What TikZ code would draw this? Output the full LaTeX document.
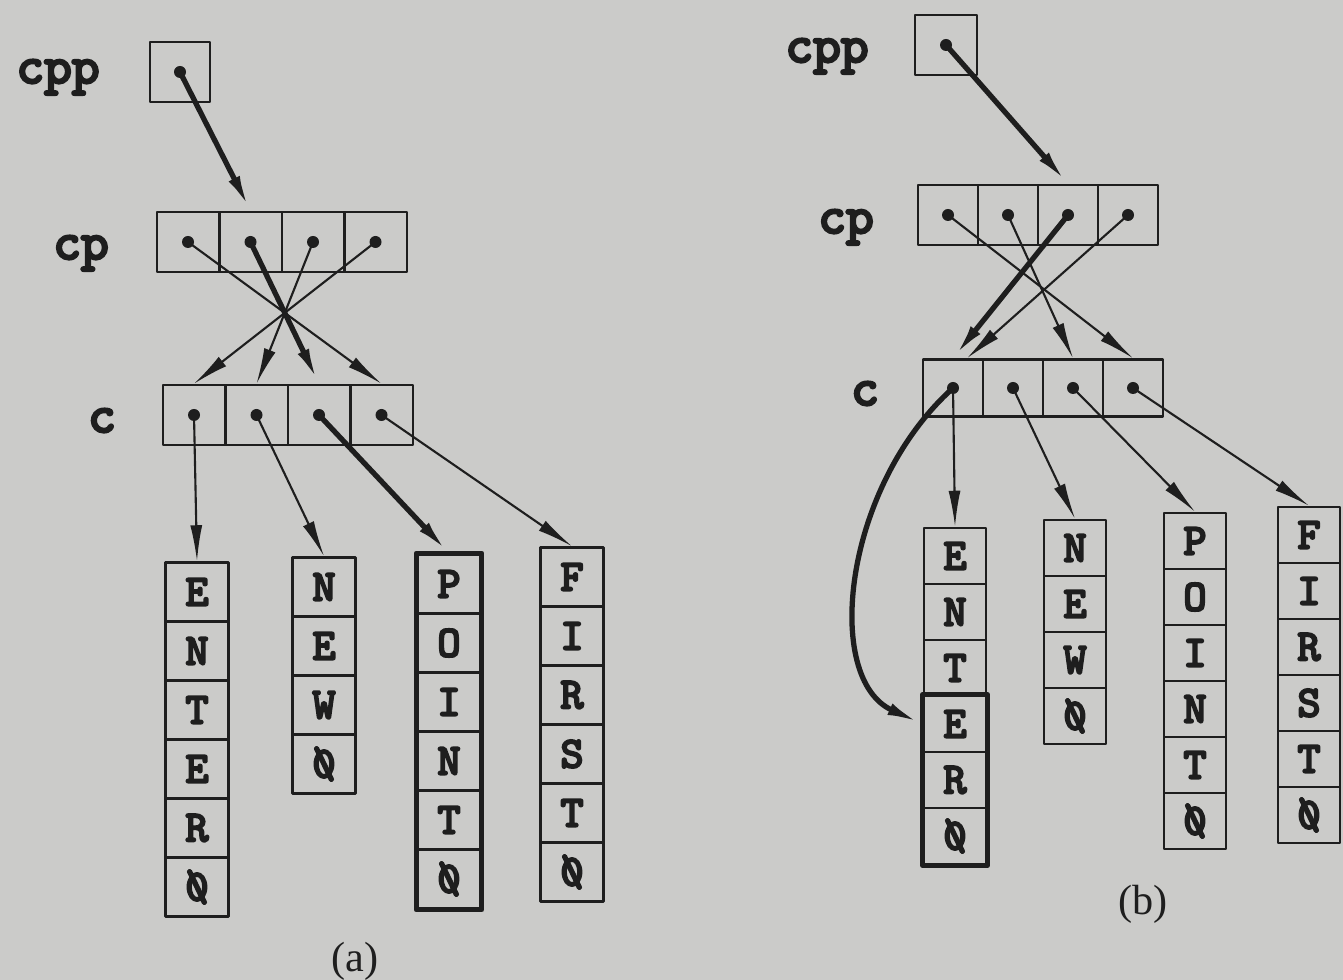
\documentclass[tikz,border=0pt]{standalone}
\usepackage{fontspec}
\setmainfont{Liberation Serif}
\newfontfamily\cellfont{lmmono10-regular}[Extension=.otf, FakeBold=5]
\usetikzlibrary{arrows.meta,calc,positioning}
\definecolor{paper}{RGB}{203,203,201}
\definecolor{ink}{RGB}{30,30,30}
\newcommand{\nulch}{\rlap{0}\char92}

\begin{document}
\begin{tikzpicture}[x=0.01cm, y=-0.01cm, line join=round,
  cell/.style={draw=ink, line width=0.7pt, minimum width=0.625cm, minimum height=0.6cm, inner sep=0pt},
  chr/.style={cell, minimum width=0.63cm, minimum height=0.59cm, text=ink, font=\cellfont\fontsize{12.5}{12.5}\selectfont},
  chrB/.style={chr, minimum width=0.62cm, minimum height=0.56cm},
  lbl/.style={anchor=base, text=ink, font=\cellfont\fontsize{15}{15}\selectfont},
  ptr/.style={draw=ink, line width=0.6pt, -{Latex[length=3.6mm,width=1.2mm]}},
  bold/.style={line width=1.5pt}]
\fill[paper] (0,0) rectangle (1343,980);
\useasboundingbox (0,0) rectangle (1343,980);
%
% (a)
\node[cell, minimum width=0.6cm] (cppA) at (180,72) {};
\foreach \i in {1,...,4} {
  \node[cell] (cpA-\i) at ({188+62.5*(\i-1)},242) {};
  \node[cell] (cA-\i) at ({194+62.5*(\i-1)},415) {};
}
\node[lbl] (cppAl) at (58,83) {cpp};
\node[lbl] (cpAl) at (81,259) {cp};
\node[lbl] (cAl) at (102,432) {c};
%
\foreach \ch [count=\i] in {E,N,T,E,R,\nulch}
  \node[chr] (sA1-\i) at (197,{592+59*(\i-1)}) {\ch};
\foreach \ch [count=\i] in {N,E,W,\nulch}
  \node[chr] (sA2-\i) at (324,{587+59*(\i-1)}) {\ch};
\foreach \ch [count=\i] in {P,O,I,N,T,\nulch}
  \node[chr] (sA3-\i) at (449,{584+59*(\i-1)}) {\ch};
\foreach \ch [count=\i] in {F,I,R,S,T,\nulch}
  \node[chr] (sA4-\i) at (572,{577+59*(\i-1)}) {\ch};
\draw[ink, bold] (sA3-1.north west) rectangle (sA3-6.south east);
%
\draw[ptr, bold] (cppA.center) -- (cpA-2.north);
\draw[ptr] (cpA-1.center) -- (cA-4.north);
\draw[ptr, bold] (cpA-2.center) -- (cA-3.north);
\draw[ptr] (cpA-3.center) -- (cA-2.north);
\draw[ptr] (cpA-4.center) -- (cA-1.north);
\draw[ptr] (cA-1.center) -- (sA1-1.north);
\draw[ptr] (cA-2.center) -- (sA2-1.north);
\draw[ptr, bold] (cA-3.center) -- (sA3-1.north);
\draw[ptr] (cA-4.center) -- (sA4-1.north);
\node[anchor=base, text=ink, font=\fontsize{12}{12}\selectfont] (capA) at (355,971) {(a)};
%
% (b)
\node[cell, minimum width=0.62cm, minimum height=0.6cm] (cppB) at (946,45) {};
\foreach \i in {1,...,4} {
  \node[cell, minimum width=0.6cm] (cpB-\i) at ({948+60*(\i-1)},215) {};
  \node[cell, minimum width=0.6cm, minimum height=0.57cm] (cB-\i) at ({953+60*(\i-1)},388) {};
}
\node[lbl] (cppBl) at (827,62) {cpp};
\node[lbl] (cpBl) at (846,233) {cp};
\node[lbl] (cBl) at (865,405) {c};
%
\foreach \ch [count=\i] in {E,N,T,E,R,\nulch}
  \node[chrB] (sB1-\i) at (955,{556+56*(\i-1)}) {\ch};
\foreach \ch [count=\i] in {N,E,W,\nulch}
  \node[chrB] (sB2-\i) at (1075,{548+56*(\i-1)}) {\ch};
\foreach \ch [count=\i] in {P,O,I,N,T,\nulch}
  \node[chrB] (sB3-\i) at (1195,{541+56*(\i-1)}) {\ch};
\foreach \ch [count=\i] in {F,I,R,S,T,\nulch}
  \node[chrB] (sB4-\i) at (1309,{535+56*(\i-1)}) {\ch};
\draw[ink, bold] (sB1-4.north west) rectangle (sB1-6.south east);
%
\draw[ptr, bold] (cppB.center) -- (cpB-3.north);
\draw[ptr] (cpB-1.center) -- (cB-4.north);
\draw[ptr] (cpB-2.center) -- (cB-3.north);
\draw[ptr, bold] (cpB-3.center) -- (cB-1.north);
\draw[ptr] (cpB-4.center) -- ($(cB-1.north)+(14,0)$);
\draw[ptr] (cB-1.center) -- (sB1-1.north);
\draw[ptr] (cB-2.center) -- (sB2-1.north);
\draw[ptr] (cB-3.center) -- (sB3-1.north);
\draw[ptr] (cB-4.center) -- (sB4-1.north);
\draw[ptr, bold] (cB-1.center) .. controls +(-110,99) and +(-100,-45) .. (sB1-4.west);
\node[anchor=base, text=ink, font=\fontsize{12}{12}\selectfont] (capB) at (1143,914) {(b)};
%
% pointer dots
\foreach \n in {cppA,cpA-1,cpA-2,cpA-3,cpA-4,cA-1,cA-2,cA-3,cA-4,cppB,cpB-1,cpB-2,cpB-3,cpB-4,cB-1,cB-2,cB-3,cB-4}
  \fill[ink] (\n.center) circle[radius=0.06cm];
\end{tikzpicture}
\end{document}
